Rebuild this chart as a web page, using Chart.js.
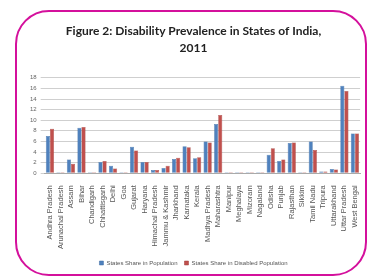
<!DOCTYPE html>
<html>
<head>
<meta charset="utf-8">
<script src="https://cdn.jsdelivr.net/npm/chart.js@4/dist/chart.umd.min.js"></script>
<style>
  html, body { margin: 0; padding: 0; background: #fff; }
  #wrap { position: relative; width: 368px; height: 276px; overflow: hidden; }
  #frame {
    position: absolute; left: 15px; top: 10px; width: 352px; height: 266px;
    border: 2px solid #d4109c; border-radius: 34px; box-sizing: border-box;
  }
  canvas { position: absolute; left: 0; top: 0; }
</style>
</head>
<body>
<div id="wrap">
  <div id="frame"></div>
  <canvas id="chart" width="368" height="276"></canvas>
</div>
<script>
// Stati (asse x)
const states = [
  "Andhra Pradesh", "Arunachal Pradesh", "Assam", "Bihar", "Chandigarh",
  "Chhattisgarh", "Delhi", "Goa", "Gujarat", "Haryana",
  "Himachal Pradesh", "Jammu & Kashmir", "Jharkhand", "Karnataka", "Kerala",
  "Madhya Pradesh", "Maharashtra", "Manipur", "Meghalaya", "Mizoram",
  "Nagaland", "Odisha", "Punjab", "Rajasthan", "Sikkim",
  "Tamil Nadu", "Tripura", "Uttarakhand", "Uttar Pradesh", "West Bengal"
];

// Quota della popolazione (%)
const populationShare = [
  7.0, 0.2, 2.6, 8.6, 0.2,
  2.1, 1.4, 0.2, 5.0, 2.1,
  0.6, 1.0, 2.7, 5.1, 2.8,
  6.0, 9.3, 0.2, 0.2, 0.2,
  0.2, 3.5, 2.3, 5.7, 0.2,
  6.0, 0.3, 0.8, 16.5, 7.5
];

// Quota della popolazione disabile (%)
const disabledShare = [
  8.4, 0.2, 1.8, 8.7, 0.2,
  2.3, 0.9, 0.2, 4.3, 2.1,
  0.6, 1.4, 2.9, 4.9, 3.0,
  5.8, 11.0, 0.2, 0.2, 0.2,
  0.2, 4.7, 2.6, 5.8, 0.2,
  4.4, 0.3, 0.7, 15.5, 7.5
];

const yTicks = [0, 2, 4, 6, 8, 10, 12, 14, 16, 18];

const ctx = document.getElementById("chart");

new Chart(ctx, {
  type: "bar",
  data: {
    labels: states,
    datasets: [
      {
        label: "States Share in Population",
        data: populationShare,
        backgroundColor: "#4f81bd",
        borderColor: "#3b6aa0",
        borderWidth: 0.5,
      },
      {
        label: "States Share in Disabled Population",
        data: disabledShare,
        backgroundColor: "#c0504d",
        borderColor: "#9c3a37",
        borderWidth: 0.5,
      },
    ],
  },
  options: {
    responsive: false,
    animation: false,
    layout: { padding: { left: 26, right: 7, top: 22, bottom: 0 } },
    datasets: {
      bar: { barPercentage: 1.0, categoryPercentage: 0.78 },
    },
    plugins: {
      title: {
        display: true,
        text: ["Figure 2: Disability Prevalence in States of India,", "2011"],
        color: "#222",
        font: { family: "Lato", size: 12, weight: "bold", lineHeight: 1.45 },
        padding: { top: 0, bottom: 21 },
      },
      legend: {
        position: "bottom",
        labels: {
          boxWidth: 4,
          boxHeight: 4,
          padding: 7,
          color: "#555",
          font: { family: "Liberation Sans", size: 6 },
        },
      },
      tooltip: { enabled: false },
    },
    scales: {
      x: {
        grid: { display: false },
        border: { display: true, color: "#aaa" },
        ticks: {
          autoSkip: false,
          maxRotation: 90,
          minRotation: 90,
          color: "#555",
          padding: 4,
          font: { family: "Liberation Sans", size: 7.5 },
        },
      },
      y: {
        min: 0,
        max: 18,
        afterBuildTicks: (axis) => {
          axis.ticks = yTicks.map((v) => ({ value: v }));
        },
        grid: { color: "#cfcfcf", tickLength: 4 },
        border: { display: false },
        ticks: {
          color: "#666",
          padding: 4,
          font: { family: "Liberation Sans", size: 6 },
        },
      },
    },
  },
});
</script>
</body>
</html>
